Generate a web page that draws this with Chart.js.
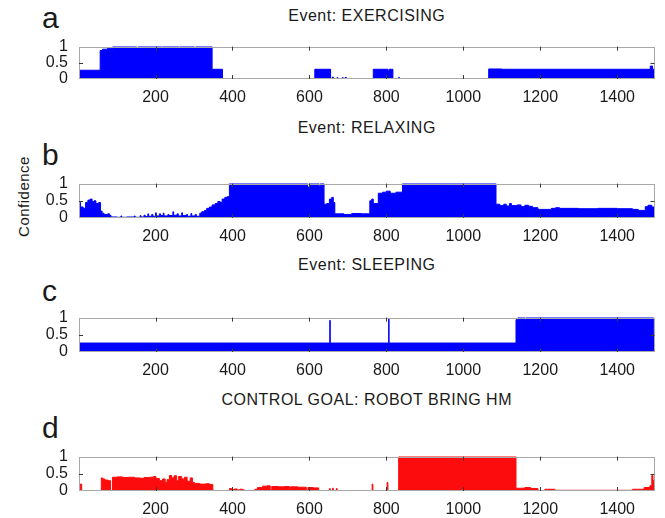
<!DOCTYPE html>
<html>
<head>
<meta charset="utf-8">
<script src="https://cdn.jsdelivr.net/npm/chart.js@4.4.1/dist/chart.umd.min.js"></script>
<style>
  html, body { margin: 0; padding: 0; background: #fff; }
  #wrap { position: relative; width: 665px; height: 518px; overflow: hidden;
          font-family: "Liberation Sans", Arial, Helvetica, sans-serif; color: #1a1a1a; }
  .panel { position: absolute; left: 0; width: 665px; }
  .title { position: absolute; left: 79px; width: 575.5px; text-align: center;
           font-size: 16px; line-height: 16px; letter-spacing: 0.5px; white-space: nowrap; }
  .letter { position: absolute; left: 42px; font-size: 30px; line-height: 30px; }
  #ylab { position: absolute; left: -27px; top: 189px; width: 100px; height: 15px;
          font-size: 15px; line-height: 15px; letter-spacing: 0.5px; text-align: center;
          transform: rotate(-90deg); white-space: nowrap; }
</style>
</head>
<body>
<div id="wrap">
  <div class="letter" style="top:3px">a</div>
  <div class="letter" style="top:139.6px">b</div>
  <div class="letter" style="top:276.3px">c</div>
  <div class="letter" style="top:413px">d</div>
  <div class="title" style="top:7.5px">Event: EXERCISING</div>
  <div class="title" style="top:119.8px">Event: RELAXING</div>
  <div class="title" style="top:256.5px">Event: SLEEPING</div>
  <div class="title" style="top:391.5px">CONTROL GOAL: ROBOT BRING HM</div>
  <div id="ylab">Confidence</div>
  <div class="panel" id="pa"><canvas id="ca"></canvas></div>
  <div class="panel" id="pb"><canvas id="cb"></canvas></div>
  <div class="panel" id="pc"><canvas id="cc"></canvas></div>
  <div class="panel" id="pd"><canvas id="cd"></canvas></div>
</div>
<script>
// Time axis (samples) and tick marks shared by all four panels
const xMin = 1;
const xMax = 1497;
const xTickValues = [200, 400, 600, 800, 1000, 1200, 1400];
const yTickValues = [0, 0.5, 1];

// Each series is a step function: value holds from x[i] until x[i+1]
const exercisingX = [1, 56, 62, 75, 89, 150, 155, 215, 218, 260, 263, 300, 305, 347, 374, 614, 655, 660, 662, 672, 674, 685, 688, 693, 696, 766, 804, 807, 817, 832, 834, 1066, 1100, 1486, 1492, 1497];
const exercisingY = [0.27, 0.88, 0.92, 0.95, 1.0, 0.97, 1.0, 0.97, 1.0, 0.97, 1.0, 0.98, 1.0, 0.3, 0.01, 0.3, 0.02, 0.06, 0.01, 0.05, 0.01, 0.04, 0.01, 0.05, 0.01, 0.3, 0.25, 0.3, 0.01, 0.05, 0.01, 0.31, 0.3, 0.4, 0.3, 0.3];

const relaxingX = [1, 5, 12, 18, 24, 30, 35, 40, 45, 52, 57, 61, 66, 75, 80, 84, 100, 110, 112, 125, 145, 147, 160, 162, 170, 173, 180, 182, 190, 193, 200, 202, 210, 213, 220, 222, 232, 235, 245, 247, 256, 259, 268, 270, 280, 283, 292, 294, 303, 306, 315, 320, 327, 333, 340, 347, 355, 362, 368, 373, 380, 386, 392, 595, 600, 625, 628, 638, 645, 652, 658, 662, 666, 690, 710, 735, 757, 762, 766, 779, 790, 800, 810, 825, 842, 1085, 1095, 1105, 1112, 1120, 1125, 1140, 1150, 1160, 1170, 1180, 1194, 1229, 1240, 1250, 1300, 1350, 1400, 1440, 1455, 1473, 1480, 1490, 1497];
const relaxingY = [0.45, 0.32, 0.28, 0.45, 0.52, 0.55, 0.48, 0.5, 0.42, 0.45, 0.2, 0.14, 0.1, 0.12, 0.08, 0.03, 0.02, 0.06, 0.02, 0.03, 0.06, 0.02, 0.07, 0.03, 0.08, 0.04, 0.12, 0.05, 0.1, 0.05, 0.15, 0.06, 0.12, 0.07, 0.14, 0.06, 0.1, 0.07, 0.18, 0.08, 0.12, 0.06, 0.15, 0.07, 0.1, 0.05, 0.13, 0.06, 0.1, 0.05, 0.14, 0.18, 0.22, 0.28, 0.32, 0.38, 0.42, 0.48, 0.45, 0.55, 0.6, 0.62, 1.0, 0.9, 1.0, 0.92, 1.0, 0.4, 0.42, 0.55, 0.6, 0.45, 0.12, 0.1, 0.13, 0.12, 0.5, 0.55, 0.42, 0.72, 0.75, 0.78, 0.72, 0.75, 1.0, 0.4, 0.36, 0.4, 0.35, 0.42, 0.36, 0.38, 0.33, 0.37, 0.34, 0.3, 0.25, 0.28, 0.3, 0.28, 0.27, 0.28, 0.27, 0.25, 0.22, 0.33, 0.37, 0.32, 0.32];

const sleepingX = [1, 653, 654, 806, 807, 1137, 1142, 1160, 1163, 1494, 1497];
const sleepingY = [0.26, 0.92, 0.26, 0.97, 0.26, 0.94, 1.0, 0.94, 1.0, 0.45, 0.45];

const bringX = [1, 4, 8, 59, 63, 68, 76, 83, 88, 100, 115, 130, 145, 160, 170, 185, 195, 201, 210, 218, 225, 230, 236, 242, 248, 255, 260, 268, 275, 282, 290, 296, 301, 315, 330, 340, 349, 392, 398, 405, 412, 419, 427, 432, 458, 465, 478, 490, 498, 502, 520, 535, 548, 551, 570, 592, 596, 610, 624, 652, 654, 660, 662, 670, 672, 763, 765, 802, 804, 832, 1137, 1160, 1175, 1194, 1212, 1238, 1440, 1470, 1485, 1490, 1493, 1497];
const bringY = [0, 0.2, 0, 0.38, 0.35, 0.32, 0.3, 0, 0.4, 0.41, 0.39, 0.4, 0.38, 0.37, 0.39, 0.4, 0.42, 0.36, 0.3, 0.35, 0.25, 0.33, 0.45, 0.38, 0.44, 0.3, 0.42, 0.35, 0.4, 0.28, 0.38, 0.25, 0.22, 0.2, 0.21, 0.19, 0, 0.07, 0.04, 0.06, 0.03, 0.05, 0.03, 0, 0.05, 0.1, 0.14, 0.15, 0.02, 0.13, 0.12, 0.13, 0.02, 0.12, 0.11, 0.02, 0.1, 0.09, 0, 0.07, 0, 0.08, 0, 0.07, 0, 0.2, 0, 0.25, 0, 1.0, 0.08, 0.1, 0.07, 0, 0.05, 0.02, 0.05, 0.1, 0.15, 0.45, 0.3, 0.15];

const BLUE = '#0000ff';
const RED = '#fc0c0c';
const PAD_TOP = 12;
const X_AXIS_H = 26;
const Y_AXIS_W = 79;
const FONT = { family: '"Liberation Sans", Arial, Helvetica, sans-serif', size: 16 };

// Box around the plot area plus short inward tick marks on all sides
const boxPlugin = {
  id: 'matlabBox',
  afterDatasetsDraw(chart) {
    const { ctx, chartArea: a, scales } = chart;
    ctx.save();
    ctx.lineWidth = 1;
    ctx.strokeStyle = '#a8a8a8';
    ctx.strokeRect(Math.round(a.left) + 0.5, Math.round(a.top) + 0.5,
                   Math.round(a.right - a.left) - 1, Math.round(a.bottom - a.top) - 1);
    ctx.strokeStyle = '#3a3a3a';
    ctx.beginPath();
    xTickValues.forEach(v => {
      const px = Math.round(scales.x.getPixelForValue(v)) + 0.5;
      ctx.moveTo(px, a.bottom); ctx.lineTo(px, a.bottom - 4);
      ctx.moveTo(px, a.top); ctx.lineTo(px, a.top + 4);
    });
    const py = Math.round(scales.y.getPixelForValue(0.5)) + 0.5;
    ctx.moveTo(a.left, py); ctx.lineTo(a.left + 4, py);
    ctx.moveTo(a.right, py); ctx.lineTo(a.right - 4, py);
    ctx.stroke();
    ctx.restore();
  }
};

function makePanel(wrapId, canvasId, plotTop, plotBottom, xs, ys, color) {
  const wrap = document.getElementById(wrapId);
  wrap.style.top = (plotTop - PAD_TOP) + 'px';
  wrap.style.height = (plotBottom - plotTop + PAD_TOP + X_AXIS_H) + 'px';
  const points = xs.map((x, i) => ({ x: x, y: ys[i] }));
  return new Chart(document.getElementById(canvasId), {
    type: 'line',
    data: {
      datasets: [{
        data: points,
        stepped: true,
        fill: 'origin',
        backgroundColor: color,
        borderColor: color,
        borderWidth: 1,
        pointRadius: 0,
        tension: 0
      }]
    },
    options: {
      responsive: true,
      maintainAspectRatio: false,
      animation: false,
      devicePixelRatio: 1,
      layout: { padding: { top: PAD_TOP, left: 0, right: 10.5, bottom: 0 } },
      plugins: { legend: { display: false }, tooltip: { enabled: false }, title: { display: false } },
      scales: {
        x: {
          type: 'linear', min: xMin, max: xMax,
          grid: { display: false, drawTicks: false, tickLength: 0 }, border: { display: false },
          afterBuildTicks: s => { s.ticks = xTickValues.map(v => ({ value: v })); },
          afterFit: s => { s.height = X_AXIS_H; },
          ticks: { font: FONT, color: '#1a1a1a', padding: 9, maxRotation: 0, autoSkip: false,
                   callback: v => String(v) }
        },
        y: {
          min: 0, max: 1,
          grid: { display: false, drawTicks: false, tickLength: 0 }, border: { display: false },
          afterBuildTicks: s => { s.ticks = yTickValues.map(v => ({ value: v })); },
          afterFit: s => { s.width = Y_AXIS_W; },
          ticks: { font: FONT, color: '#1a1a1a', padding: 11, autoSkip: false,
                   callback: v => String(v) }
        }
      }
    },
    plugins: [boxPlugin]
  });
}

makePanel('pa', 'ca', 38, 79, exercisingX, exercisingY, BLUE);
makePanel('pb', 'cb', 175, 218, relaxingX, relaxingY, BLUE);
makePanel('pc', 'cc', 309, 352, sleepingX, sleepingY, BLUE);
makePanel('pd', 'cd', 448, 491, bringX, bringY, RED);
</script>
</body>
</html>
